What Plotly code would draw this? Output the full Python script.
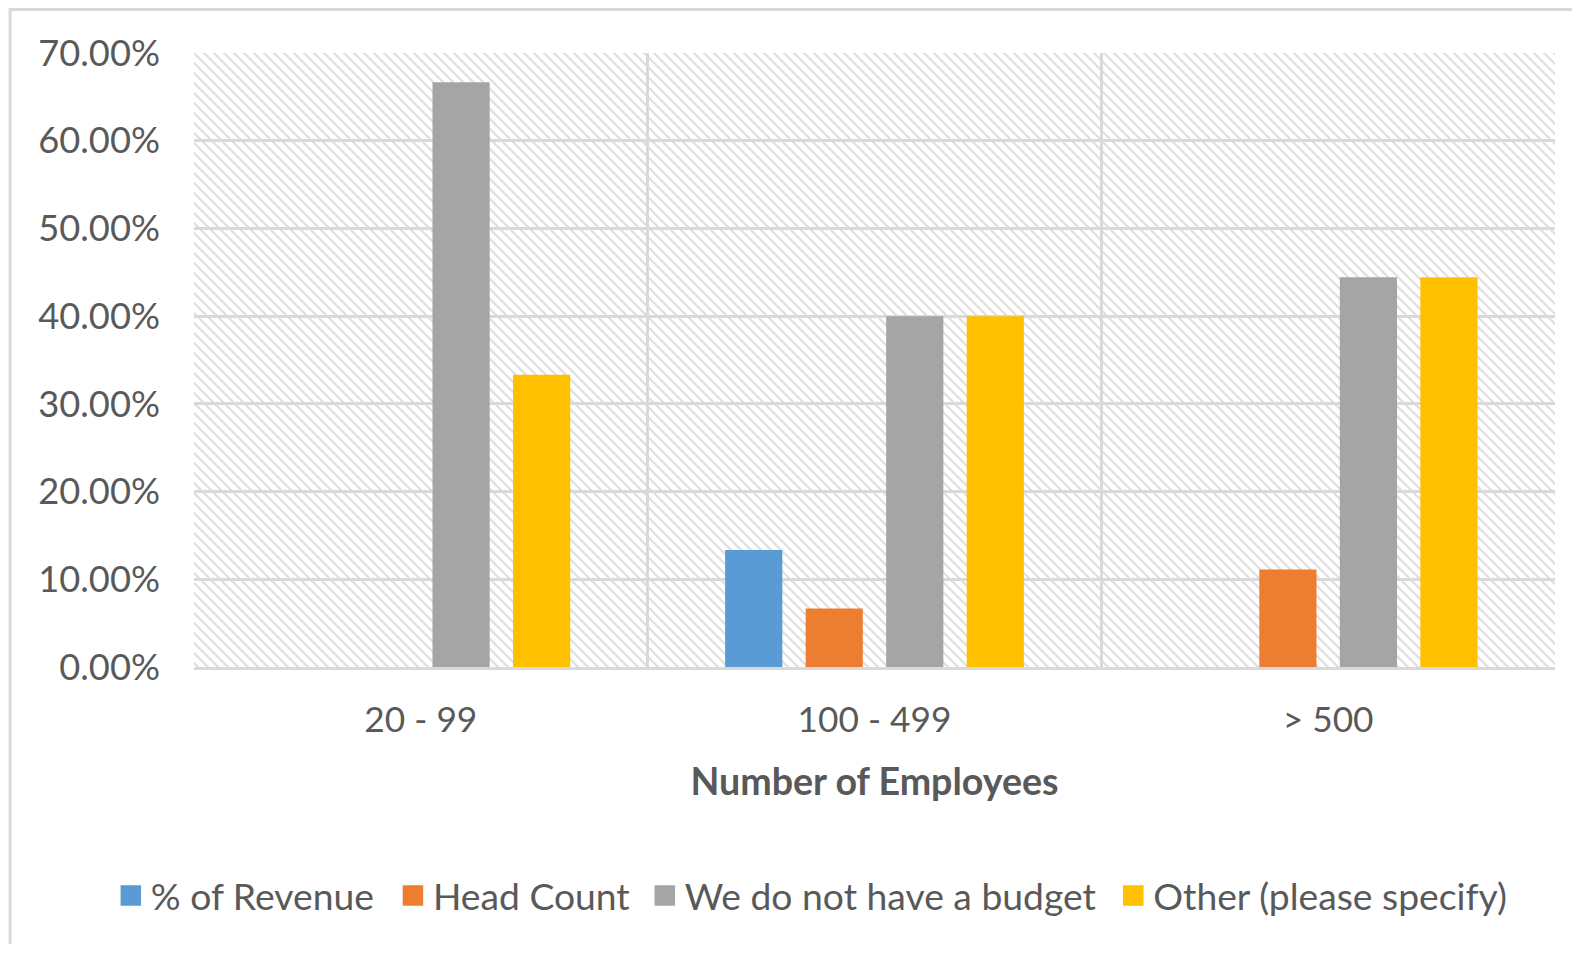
import base64
import plotly.graph_objects as go

categories = ["20 - 99", "100 - 499", "> 500"]
series_names = ["% of Revenue", "Head Count", "We do not have a budget", "Other (please specify)"]
revenue = [0.0, 0.1333, 0.0]
head_count = [0.0, 0.0667, 0.1111]
no_budget = [0.6667, 0.40, 0.4444]
other = [0.3333, 0.40, 0.4444]
y_ticks = [0, 0.1, 0.2, 0.3, 0.4, 0.5, 0.6, 0.7]

colors = ["#5B9BD5", "#ED7D31", "#A5A5A5", "#FFC000"]
values = [revenue, head_count, no_budget, other]

S = 1.0075  # compensation for the capture scale
OFF = 8     # default page body margin
W = int(round(1580 * S)) - 2 * OFF
H = int(round(957 * S)) - 2 * OFF - 12
# plot area in reference pixels: x 193..1543, y 53..662
ML, MT = round(193 * S) - OFF, round(53 * S) - OFF
MR, MB = W - (round(1543 * S) - OFF), H - (round(662 * S) - OFF)
PW, PH = W - ML - MR, H - MT - MB


def px_x(x):
    return (x * S - OFF - ML) / PW


def px_y(y):
    return (H - MB - (y * S - OFF)) / PH


def fs(v):
    return v * S


fig = go.Figure()
for name, vals, col in zip(series_names, values, colors):
    fig.add_trace(go.Bar(x=categories, y=vals, name=name, marker_color=col,
                         marker_line_width=0, showlegend=False))

legend_ids = ["legend", "legend2", "legend3", "legend4"]
legend_left_px = [120, 400, 650, 1115]  # left edge of each legend swatch
for name, col, lid in zip(series_names, colors, legend_ids):
    fig.add_trace(go.Scatter(x=[None], y=[None], mode="markers", name=name,
                             legend=lid,
                             marker=dict(symbol="square", size=16, color=col,
                                         line=dict(color=col, width=4.5))))

svg = (f'<svg xmlns="http://www.w3.org/2000/svg" width="{PW}" height="{PH}">'
       '<defs><pattern id="p" width="10" height="10" patternUnits="userSpaceOnUse">'
       '<path d="M-1,-1 L11,11 M-1,9 L1,11 M9,-1 L11,1" stroke="#dedede" stroke-width="2.2"/>'
       '</pattern></defs><rect width="100%" height="100%" fill="url(#p)"/></svg>')
src = "data:image/svg+xml;base64," + base64.b64encode(svg.encode()).decode()

fig.add_layout_image(dict(source=src, xref="paper", yref="paper", x=0, y=1,
                          sizex=1, sizey=1, xanchor="left", yanchor="top",
                          sizing="stretch", layer="below"))

# outer chart border (left and top edges visible)
fig.add_shape(type="rect", xref="paper", yref="paper",
              x0=px_x(10), x1=px_x(1640),
              y0=px_y(1040), y1=(H - MB - 1.5) / PH,
              line=dict(color="#d9d9d9", width=3), fillcolor="rgba(0,0,0,0)",
              layer="below")

font_fam = "Lato, Carlito, Calibri, sans-serif"
grey_txt = "#595959"

legend_common = dict(orientation="h", xanchor="left", yanchor="middle",
                     y=px_y(889), font=dict(size=fs(37), color=grey_txt),
                     itemwidth=30, bgcolor="rgba(0,0,0,0)", borderwidth=0)
legends = {lid: dict(legend_common, x=px_x(lx - 10))
           for lid, lx in zip(legend_ids, legend_left_px)}

fig.update_layout(
    width=W, height=H,
    margin=dict(l=ML, r=MR, t=MT, b=MB, autoexpand=False),
    paper_bgcolor="white", plot_bgcolor="rgba(0,0,0,0)",
    barmode="group", bargap=0.29, bargroupgap=0.29,
    font=dict(family=font_fam, color=grey_txt, size=fs(36)),
    xaxis=dict(type="category", tickson="boundaries", showgrid=True,
               gridcolor="#d9d9d9", gridwidth=3, ticks="",
               showline=True, linecolor="#d9d9d9", linewidth=3,
               ticklabelstandoff=20,
               tickfont=dict(size=fs(35), color=grey_txt),
               title=dict(text="<b>Number of Employees</b>", standoff=30,
                          font=dict(size=fs(37.3), color=grey_txt))),
    yaxis=dict(range=[0, 0.7], tickvals=y_ticks, tickformat=".2%",
               showgrid=True, gridcolor="#d9d9d9", gridwidth=3,
               zeroline=False, showline=False, ticks="",
               ticklabelstandoff=33,
               tickfont=dict(size=fs(36), color=grey_txt)),
    **legends,
)

fig.write_html("out.html")
